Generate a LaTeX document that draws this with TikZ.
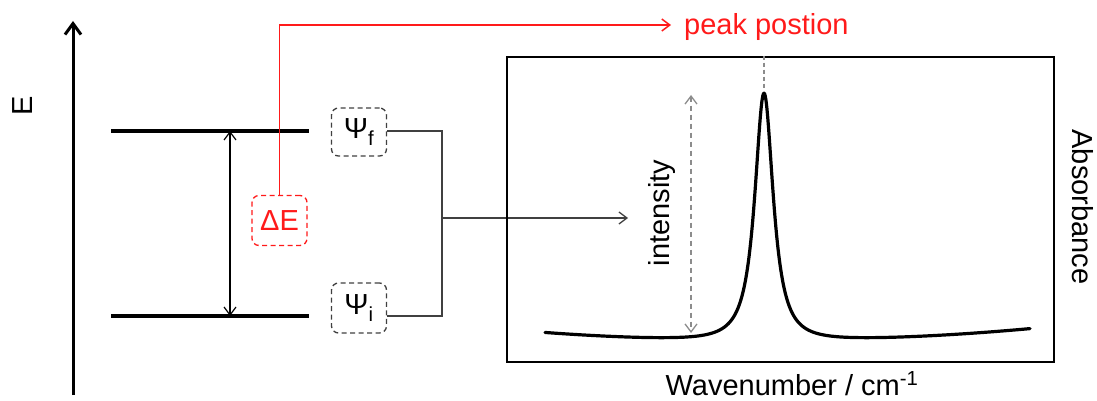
\documentclass[tikz,border=0pt]{standalone}
\usepackage{fontspec}
\setmainfont{Liberation Sans}
\usetikzlibrary{arrows.meta}
\definecolor{boxgray}{HTML}{404040}
\definecolor{lgray}{HTML}{8C8C8C}
\definecolor{pred}{HTML}{FF1A1A}
\begin{document}
\begin{tikzpicture}[x=1pt,y=-1pt,
  lbl/.style={font=\fontsize{29}{34}\selectfont, inner sep=0pt},
  wbox/.style={draw=boxgray, dash pattern=on 5pt off 3.5pt, line width=1.3pt,
    rounded corners=7pt, minimum width=55pt, minimum height=48pt, inner sep=0pt,
    font=\fontsize{29}{34}\selectfont},
  redbox/.style={wbox, draw=pred, text=pred, minimum height=50pt},
  thinline/.style={draw=boxgray, line width=1.3pt},
  barb/.style={-{Straight Barb[length=8pt,width=12pt]}},
  dbarb/.style={{Straight Barb[length=8pt,width=12pt]}-{Straight Barb[length=8pt,width=12pt]}},
  level/.style={line width=3.4pt, line cap=butt},
  ]
\useasboundingbox (0,0) rectangle (1097,401);

% energy axis
\coordinate (ebot) at (73,395);
\coordinate (etop) at (73,21);
\draw[line width=3pt, -{Straight Barb[length=11pt,width=16pt]}] (ebot) -- (etop);
\node[lbl, rotate=90] (elabel) at (23,106) {E};

% levels
\coordinate (upL) at (111,131); \coordinate (upR) at (309,131);
\coordinate (loL) at (111,316); \coordinate (loR) at (309,316);
\draw[level] (upL) -- (upR);
\draw[level] (loL) -- (loR);
\coordinate (dAt) at (230,131); \coordinate (dAb) at (230,316);
\draw[line width=1.2pt, draw=black, dbarb] (dAt) -- (dAb);

% boxes
\node[wbox] (psif) at (359,132) {Ψ\textsubscript{f}};
\node[wbox, minimum height=50pt] (psii) at (359,308) {Ψ\textsubscript{i}};
\node[redbox] (dE) at (279.5,220.5) {ΔE};

% red connector
\coordinate (pk) at (671,25);
\draw[draw=pred, line width=1.5pt, -{Straight Barb[length=8pt,width=12pt]}] (dE.north) -- (dE.north |- pk) -- (pk);
\node[lbl, text=pred, anchor=base west] (peaklbl) at (684,35) {peak postion};

% combining lines
\coordinate (jt) at (442,131);
\coordinate (jb) at (442,316);
\coordinate (js) at (442,218);
\coordinate (ae) at (628,218);
\draw[thinline] (psif.east |- jt) -- (jt) -- (jb) -- (psii.east |- jb);
\draw[thinline, barb] (js) -- (ae);

% spectrum frame
\node[draw, line width=2.5pt, minimum width=547pt, minimum height=305pt, inner sep=0pt] (frame) at (780.5,209.5) {};
\draw[line width=3.2pt, line join=round, line cap=round]
  plot[domain=545:1030, samples=600]
  (\x, {341-1.73*((\x-764)/100)^2-248*(1+((\x-764)/12.4)^2)^(-1.2)});
\coordinate (pktop) at (764,88);
\draw[draw=lgray, line width=1.3pt, dash pattern=on 4pt off 3pt] (frame.north -| pktop) -- (pktop);
\coordinate (it) at (691,95);
\coordinate (ib) at (691,333);
\draw[draw=lgray, line width=1.3pt, dash pattern=on 5pt off 4pt, dbarb] (it) -- (ib);

\node[lbl, rotate=90] (intlbl) at (662,213) {intensity};
\node[lbl, rotate=-90] (abslbl) at (1083,207) {Absorbance};
\node[lbl, anchor=base] (wnlbl) at (792,395) {Wavenumber / cm\textsuperscript{-1}};
\end{tikzpicture}
\end{document}
